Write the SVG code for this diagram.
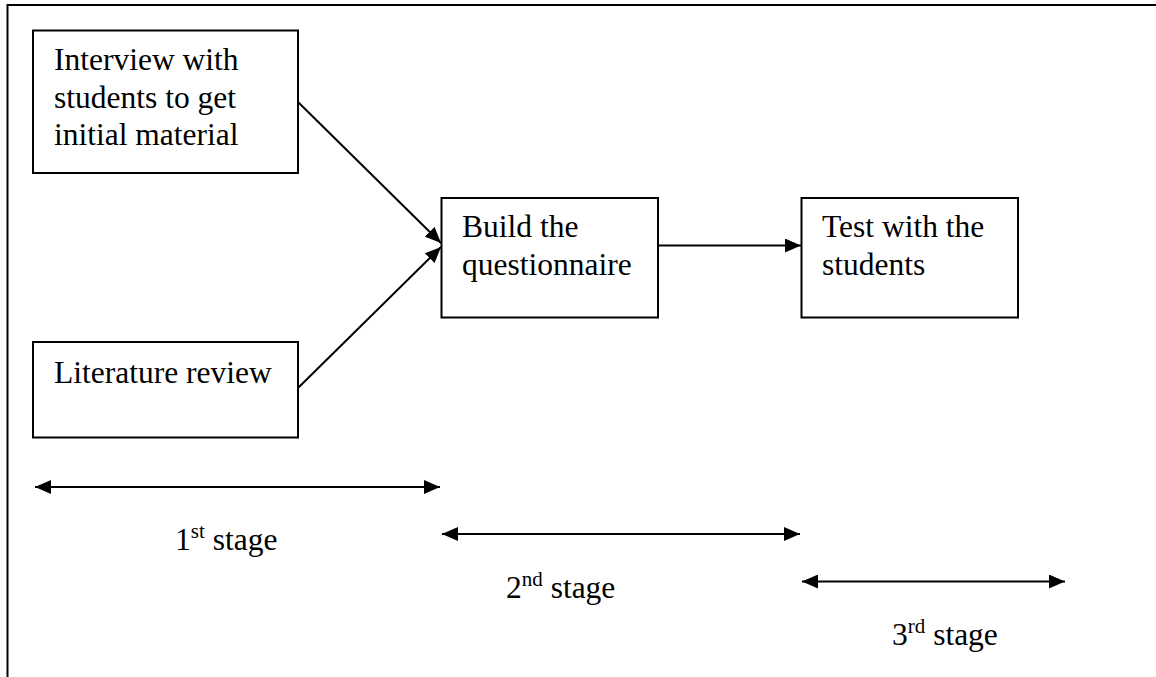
<svg xmlns="http://www.w3.org/2000/svg" width="1156" height="677" viewBox="0 0 1156 677">
<style>
.box{fill:#fff;stroke:#000;stroke-width:2}
.t{font-family:"Liberation Serif","Times New Roman",serif;font-size:31.5px;fill:#000}
.sup{font-size:21px}
.c{fill:none;stroke:#000;stroke-width:2}
</style>
<defs>
<marker id="ah" markerUnits="userSpaceOnUse" markerWidth="17" markerHeight="14" refX="16" refY="7" orient="auto-start-reverse" viewBox="0 0 17 14">
<path d="M0,0 L16,7 L0,14 z" fill="#000"/>
</marker>
</defs>
<rect width="1156" height="677" fill="#fff"/>
<path d="M7.5,677 V5 H1156" fill="none" stroke="#000" stroke-width="2"/>
<g id="n1"><rect class="box" x="33" y="30.5" width="265" height="142.5"/>
<text class="t" x="54" y="70">Interview with</text>
<text class="t" x="54" y="107.5">students to get</text>
<text class="t" x="54" y="145">initial material</text></g>
<g id="n2"><rect class="box" x="33" y="342" width="265" height="95.5"/>
<text class="t" x="54" y="383">Literature review</text></g>
<g id="n3"><rect class="box" x="441.5" y="198" width="216.5" height="119.5"/>
<text class="t" x="462" y="237">Build the</text>
<text class="t" x="462" y="275">questionnaire</text></g>
<g id="n4"><rect class="box" x="801.5" y="198" width="216.5" height="119.5"/>
<text class="t" x="822" y="237">Test with the</text>
<text class="t" x="822" y="275">students</text></g>
<g id="connectors">
<line class="c" x1="298" y1="102" x2="441" y2="243" marker-end="url(#ah)"/>
<line class="c" x1="298" y1="388" x2="441" y2="247" marker-end="url(#ah)"/>
<line class="c" x1="658" y1="245.5" x2="801" y2="245.5" marker-end="url(#ah)"/>
<line class="c" x1="35" y1="487" x2="440" y2="487" marker-start="url(#ah)" marker-end="url(#ah)"/>
<line class="c" x1="442" y1="534" x2="800" y2="534" marker-start="url(#ah)" marker-end="url(#ah)"/>
<line class="c" x1="802" y1="581.5" x2="1065" y2="581.5" marker-start="url(#ah)" marker-end="url(#ah)"/>
</g>
<g id="labels">
<text class="t" x="175" y="550">1<tspan class="sup" dy="-12">st</tspan><tspan dy="12"> stage</tspan></text>
<text class="t" x="506" y="598">2<tspan class="sup" dy="-12">nd</tspan><tspan dy="12"> stage</tspan></text>
<text class="t" x="892" y="645">3<tspan class="sup" dy="-12">rd</tspan><tspan dy="12"> stage</tspan></text>
</g>
</svg>
